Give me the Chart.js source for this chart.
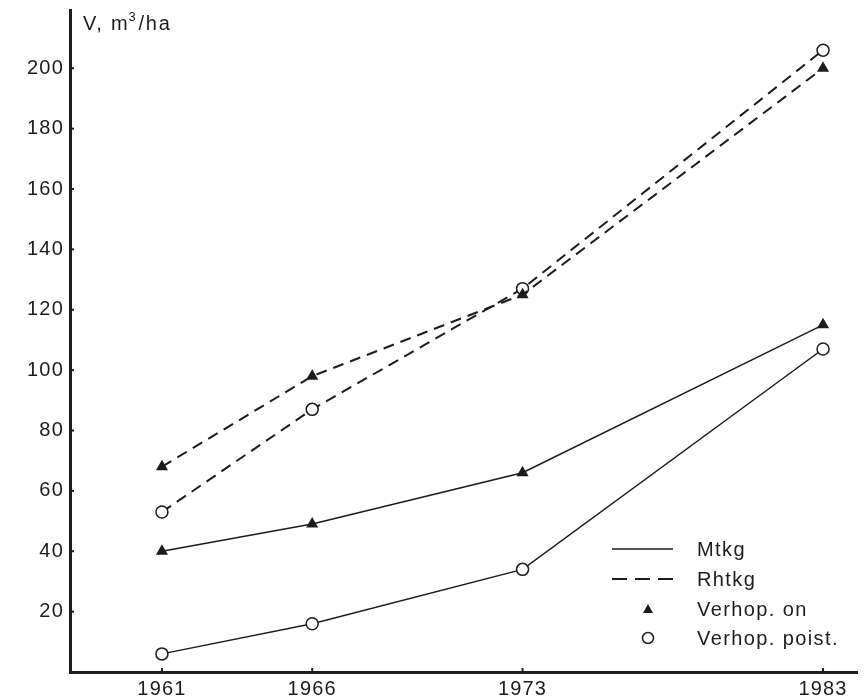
<!DOCTYPE html>
<html>
<head>
<meta charset="utf-8">
<script src="https://cdn.jsdelivr.net/npm/chart.js@4.4.0/dist/chart.umd.min.js"></script>
<style>
  html, body { margin: 0; padding: 0; background: #fff; }
  #wrap { width: 867px; height: 696px; }
</style>
</head>
<body>
<div id="wrap"><canvas id="VolumeChart" width="867" height="696"></canvas></div>
<script>
// values (m3/ha)
const years = [1961, 1966, 1973, 1983]
const yTicks = [20, 40, 60, 80, 100, 120, 140, 160, 180, 200]
const mtkgOn = [40, 49, 66, 115]
const mtkgPoist = [6, 16, 34, 107]
const rhtkgOn = [68, 98, 125, 200]
const rhtkgPoist = [53, 87, 127, 206]
const legendNames = ["Mtkg", "Rhtkg", "Verhop. on", "Verhop. poist."]
const yTitle = ["V, m", "3", "/ha"]

const ink = "#1c1c1c"
const font = "Liberation Sans, Arial, sans-serif"
const spacing = "1.2px"

const toPoints = (vals) => vals.map((v, i) => ({ x: years[i], y: v }))

const series = (vals, dashed, marker) => ({
	data: toPoints(vals),
	borderColor: ink,
	borderWidth: dashed ? 2 : 1.5,
	borderDash: dashed ? [11, 7] : [],
	tension: 0,
	fill: false,
	pointStyle: marker,
	pointRadius: marker === "triangle" ? 5.5 : 6,
	pointBorderWidth: 1.5,
	pointBorderColor: ink,
	pointBackgroundColor: marker === "triangle" ? ink : "#fff",
})

const spacingPlugin = {
	id: "spacing",
	beforeLayout: (chart) => { chart.ctx.letterSpacing = spacing },
	beforeDraw: (chart) => { chart.ctx.letterSpacing = spacing },
}

const extrasPlugin = {
	id: "extras",
	afterDraw: (chart) => {
		const ctx = chart.ctx
		const area = chart.chartArea
		const xs = chart.scales.x
		const ys = chart.scales.y
		ctx.save()
		ctx.strokeStyle = ink
		ctx.lineWidth = 2
		// small inward tick marks
		years.forEach((yr) => {
			const px = xs.getPixelForValue(yr)
			ctx.beginPath()
			ctx.moveTo(px, area.bottom)
			ctx.lineTo(px, area.bottom - 4)
			ctx.stroke()
		})
		yTicks.forEach((t) => {
			const py = ys.getPixelForValue(t)
			ctx.beginPath()
			ctx.moveTo(area.left, py)
			ctx.lineTo(area.left + 4, py)
			ctx.stroke()
		})

		// axis title with superscript
		ctx.fillStyle = ink
		ctx.letterSpacing = "1.8px"
		ctx.textBaseline = "alphabetic"
		ctx.textAlign = "left"
		let tx = area.left + 13
		const ty = 30
		ctx.font = "20px " + font
		ctx.fillText(yTitle[0], tx, ty)
		tx += ctx.measureText(yTitle[0]).width
		ctx.font = "13px " + font
		ctx.fillText(yTitle[1], tx - 1, ty - 9)
		tx += ctx.measureText(yTitle[1]).width
		ctx.font = "20px " + font
		ctx.fillText(yTitle[2], tx, ty)

		// legend
		const lx0 = 612, lx1 = 673, mx = 648, textX = 697
		const rows = [549, 579, 609, 638]
		ctx.letterSpacing = "1.4px"
		ctx.lineWidth = 1.5
		ctx.setLineDash([])
		ctx.beginPath()
		ctx.moveTo(lx0, rows[0])
		ctx.lineTo(lx1, rows[0])
		ctx.stroke()
		ctx.lineWidth = 2
		ctx.setLineDash([15, 8])
		ctx.beginPath()
		ctx.moveTo(lx0, rows[1])
		ctx.lineTo(lx1, rows[1])
		ctx.stroke()
		ctx.setLineDash([])
		ctx.beginPath()
		ctx.moveTo(mx, rows[2] - 5)
		ctx.lineTo(mx + 5, rows[2] + 4)
		ctx.lineTo(mx - 5, rows[2] + 4)
		ctx.closePath()
		ctx.fill()
		ctx.lineWidth = 1.5
		ctx.beginPath()
		ctx.arc(mx, rows[3], 5.5, 0, Math.PI * 2)
		ctx.stroke()
		ctx.font = "20px " + font
		ctx.textBaseline = "middle"
		legendNames.forEach((name, i) => ctx.fillText(name, textX, rows[i] + 1))
		ctx.restore()
	},
}

const ctx = document.getElementById("VolumeChart").getContext("2d")

new Chart(ctx, {
	type: "line",
	data: {
		datasets: [
			series(mtkgOn, false, "triangle"),
			series(mtkgPoist, false, "circle"),
			series(rhtkgOn, true, "triangle"),
			series(rhtkgPoist, true, "circle"),
		],
	},
	options: {
		responsive: false,
		animation: false,
		layout: { padding: { top: 10, right: 10, left: 0, bottom: 0 } },
		plugins: { legend: { display: false }, tooltip: { enabled: false } },
		scales: {
			x: {
				type: "linear",
				min: 1957.94,
				max: 1984.13,
				afterBuildTicks: (scale) => { scale.ticks = years.map((v) => ({ value: v })) },
				afterFit: (scale) => {
					scale.height = 24
					scale.paddingLeft = 0
					scale.paddingRight = 0
				},
				grid: { display: false, drawTicks: false },
				border: { display: true, color: ink, width: 3 },
				ticks: {
					color: ink,
					font: { family: font, size: 20 },
					padding: 5,
					maxRotation: 0,
					callback: (v) => String(v),
				},
			},
			y: {
				type: "linear",
				min: 0,
				max: 219.3,
				afterBuildTicks: (scale) => { scale.ticks = yTicks.map((v) => ({ value: v })) },
				afterFit: (scale) => {
					scale.width = 70
					scale.paddingTop = 0
					scale.paddingBottom = 0
				},
				grid: { display: false, drawTicks: false },
				border: { display: true, color: ink, width: 3 },
				ticks: {
					color: ink,
					font: { family: font, size: 20 },
					padding: 6,
				},
			},
		},
	},
	plugins: [spacingPlugin, extrasPlugin],
})
</script>
</body>
</html>
